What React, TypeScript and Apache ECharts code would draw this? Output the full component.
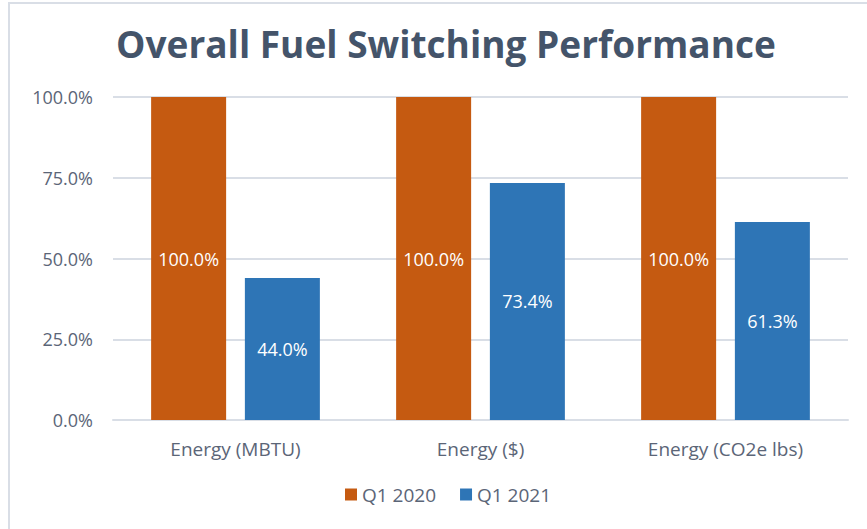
import React, { useEffect, useRef } from "react";
import * as echarts from "echarts";

const categories = ["Energy (MBTU)", "Energy ($)", "Energy (CO2e lbs)"];
const q12020 = [100.0, 100.0, 100.0];
const q12021 = [44.0, 73.4, 61.3];
const yTicks = [0, 25, 50, 75, 100];

export default function App() {
  const ref = useRef<HTMLDivElement>(null);
  useEffect(() => {
    if (!ref.current) return;
    const chart = echarts.init(ref.current, null, { renderer: "svg" });
    const font = "'Open Sans', Lato, sans-serif";
    const labelColor = "#5B6577";
    chart.setOption({
      animation: false,
      backgroundColor: "#ffffff",
      graphic: [
        {
          type: "rect",
          shape: { x: 9, y: 3, width: 900, height: 560 },
          style: { fill: "none", stroke: "#D9DEE6", lineWidth: 2 },
          silent: true,
        },
      ],
      title: {
        text: "Overall Fuel Switching Performance",
        left: 441,
        textAlign: "center",
        top: 20,
        textStyle: { fontFamily: font, fontSize: 37, fontWeight: "bold", color: "#44546A" },
      },
      legend: {
        bottom: 20,
        left: 340,
        itemWidth: 12,
        itemHeight: 12,
        itemGap: 24,
        icon: "rect",
        textStyle: { fontFamily: font, fontSize: 19, color: labelColor },
        data: ["Q1 2020", "Q1 2021"],
      },
      grid: { left: 113, right: 19, top: 97, bottom: 109, containLabel: false },
      xAxis: {
        type: "category",
        data: categories,
        axisLine: { lineStyle: { color: "#D9DEE6", width: 2 } },
        axisTick: { show: false },
        axisLabel: { fontFamily: font, fontSize: 19, color: labelColor, margin: 19 },
      },
      yAxis: {
        type: "value",
        min: yTicks[0],
        max: yTicks[yTicks.length - 1],
        interval: 25,
        axisLine: { show: false },
        axisTick: { show: false },
        splitLine: { lineStyle: { color: "#D9DEE6", width: 2 } },
        axisLabel: {
          fontFamily: font,
          fontSize: 18,
          color: labelColor,
          margin: 20,
          formatter: (v: number) => v.toFixed(1) + "%",
        },
      },
      series: [
        {
          name: "Q1 2020",
          type: "bar",
          data: q12020,
          barWidth: 75,
          barGap: "25%",
          itemStyle: { color: "#C55A11" },
          label: {
            show: true,
            position: "inside",
            color: "#ffffff",
            fontFamily: font,
            fontSize: 18,
            formatter: (p: any) => p.value.toFixed(1) + "%",
          },
        },
        {
          name: "Q1 2021",
          type: "bar",
          data: q12021,
          barWidth: 75,
          itemStyle: { color: "#2E75B6" },
          label: {
            show: true,
            position: "inside",
            color: "#ffffff",
            fontFamily: font,
            fontSize: 18,
            formatter: (p: any) => p.value.toFixed(1) + "%",
          },
        },
      ],
    });
    return () => chart.dispose();
  }, []);
  return <div ref={ref} style={{ width: 867, height: 529, position: "absolute", left: 0, top: 0 }} />;
}
